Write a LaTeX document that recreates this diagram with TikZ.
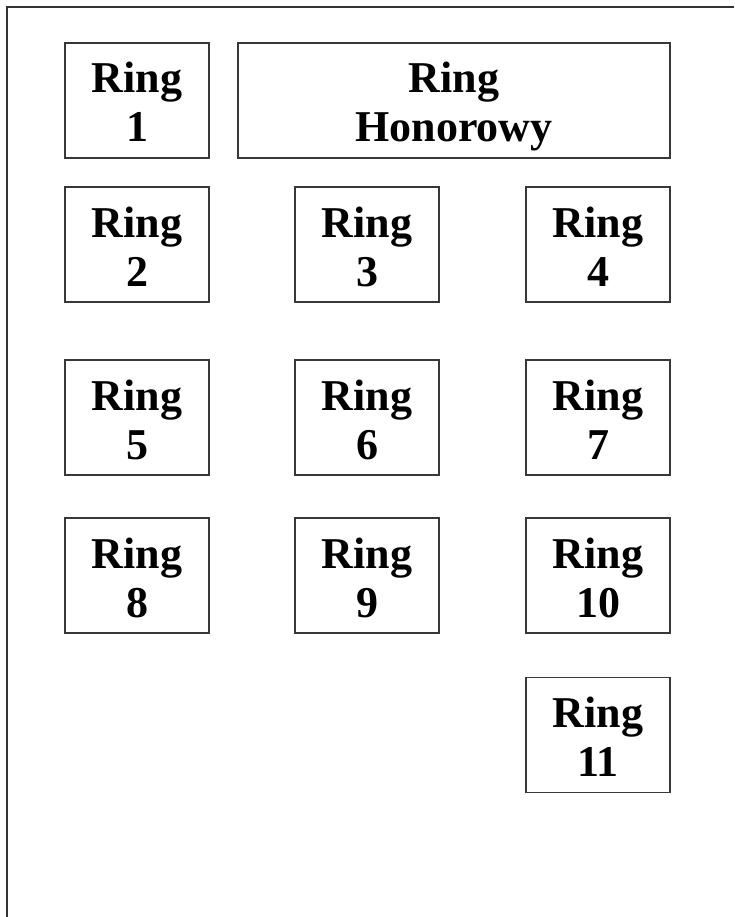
\documentclass[tikz,border=0pt]{standalone}
\usepackage{fontspec}
\setmainfont{Liberation Serif}
\newcommand\ringtexts[2]{%
  \node[ringtext] (#1-a) at ([yshift=7.5pt]#1.center) {Ring};
  \node[ringtext] (#1-b) at ([yshift=-41.5pt]#1.center) {#2};}
\begin{document}
\begin{tikzpicture}[x=1pt,y=-1pt,
  ringbox/.style={draw=black!78, line width=1.2pt, minimum width=144pt, minimum height=115pt,
    inner sep=0pt},
  ringtext/.style={anchor=base, inner sep=0pt, font=\fontsize{44}{49}\selectfont\bfseries},
  frameline/.style={draw=black!80, line width=1.2pt}]
\useasboundingbox (0,0) rectangle (734,917);
\coordinate (tl) at (7,7);
\coordinate (tr) at (734,7);
\coordinate (bl) at (7,917);
\draw[frameline] (tr) -- (tl) -- (bl);
\node[ringbox] (r1) at (137,100.5) {};
\node[ringbox, minimum width=432pt] (rh) at (454,100.5) {};
\node[ringbox] (r2) at (137,244.5) {};
\node[ringbox] (r3) at (367,244.5) {};
\node[ringbox] (r4) at (598,244.5) {};
\node[ringbox] (r5) at (137,417.5) {};
\node[ringbox] (r6) at (367,417.5) {};
\node[ringbox] (r7) at (598,417.5) {};
\node[ringbox] (r8) at (137,575.5) {};
\node[ringbox] (r9) at (367,575.5) {};
\node[ringbox] (r10) at (598,575.5) {};
\node[ringbox] (r11) at (598,735) {};
\ringtexts{r1}{1}
\ringtexts{rh}{Honorowy}
\ringtexts{r2}{2}
\ringtexts{r3}{3}
\ringtexts{r4}{4}
\ringtexts{r5}{5}
\ringtexts{r6}{6}
\ringtexts{r7}{7}
\ringtexts{r8}{8}
\ringtexts{r9}{9}
\ringtexts{r10}{10}
\ringtexts{r11}{11}
\end{tikzpicture}
\end{document}
